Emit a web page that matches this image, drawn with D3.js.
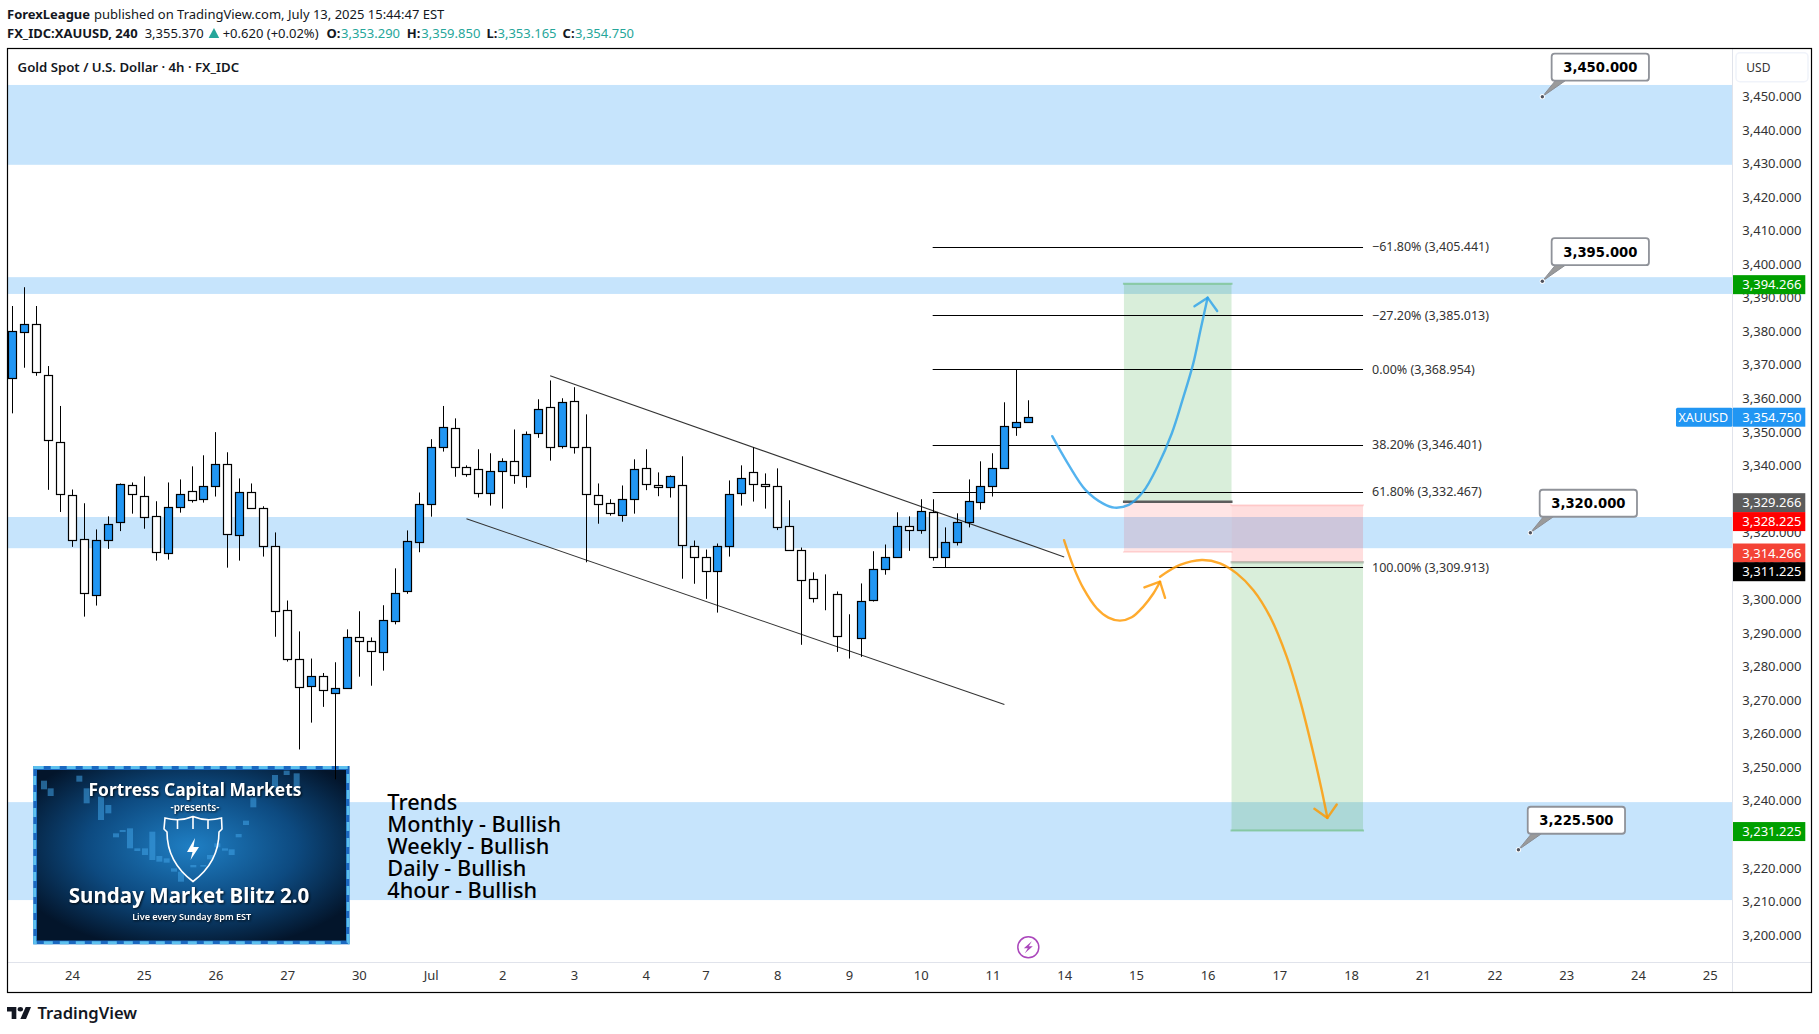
<!DOCTYPE html>
<html>
<head>
<meta charset="utf-8">
<title>XAUUSD 4h</title>
<script src="https://d3js.org/d3.v7.min.js"></script>
<style>
html, body { margin: 0; background: #fff; }
svg { display: block; }
text { font-family: "Noto Sans", sans-serif; }
</style>
</head>
<body>
<svg id="chart" width="1819" height="1034"></svg>
<script>
// candles
var opens = [3366.3,3379.6,3382.1,3366.9,3347.2,3331.4,3318.0,3301.3,3317.7,3323.1,3334.1,3331.1,3324.9,3313.9,3327.9,3332.6,3330.0,3333.8,3340.4,3319.5,3332.3,3327.3,3316.2,3296.9,3282.3,3274.2,3277.2,3272.1,3273.6,3288.8,3287.6,3284.3,3293.6,3302.5,3317.1,3328.5,3345.5,3351.1,3339.5,3338.9,3331.7,3338.3,3341.3,3336.8,3349.6,3357.4,3345.8,3359.2,3345.5,3331.4,3328.8,3325.2,3330.0,3339.2,3334.1,3333.5,3334.1,3316.2,3312.9,3308.8,3316.2,3331.7,3338.0,3334.4,3333.8,3321.9,3315.0,3306.1,3301.6,3301.6,3288.8,3288.8,3299.8,3309.1,3312.7,3321.9,3320.7,3326.1,3312.7,3317.1,3323.1,3329.1,3333.8,3339.2,3351.4,3352.9];
var closes = [3380.2,3382.1,3367.8,3347.6,3331.7,3318.0,3301.9,3317.7,3322.5,3334.4,3331.4,3324.9,3314.2,3327.6,3331.7,3330.0,3333.8,3340.4,3319.5,3332.3,3327.6,3315.9,3296.9,3282.3,3273.9,3277.2,3273.0,3273.6,3288.8,3287.6,3284.6,3293.9,3301.9,3317.4,3328.5,3345.5,3351.4,3339.5,3337.4,3331.7,3338.3,3341.3,3337.1,3349.3,3356.8,3345.5,3358.9,3345.5,3331.4,3328.8,3325.8,3330.0,3338.9,3334.4,3333.5,3336.8,3316.2,3312.9,3308.8,3316.2,3331.7,3336.2,3334.4,3333.8,3321.6,3314.8,3306.1,3300.5,3301.5,3289.1,3288.8,3299.8,3309.1,3312.7,3321.9,3320.7,3326.4,3312.7,3317.1,3323.1,3329.4,3333.8,3339.2,3351.7,3352.9,3354.4];
var highs = [3387.6,3393.2,3387.6,3369.7,3357.8,3332.9,3328.8,3321.0,3324.9,3334.7,3335.0,3336.8,3329.4,3335.0,3335.9,3339.8,3343.1,3350.0,3344.0,3336.2,3334.7,3327.9,3320.1,3299.8,3290.6,3282.5,3278.2,3281.4,3291.2,3296.6,3288.8,3298.4,3309.4,3320.7,3332.0,3347.9,3357.8,3354.1,3340.1,3344.9,3343.7,3342.2,3350.8,3350.2,3359.8,3365.4,3360.1,3363.4,3355.3,3334.7,3330.0,3334.1,3341.9,3344.9,3338.0,3337.1,3342.8,3317.7,3315.0,3316.8,3335.6,3340.1,3345.5,3337.7,3339.2,3329.7,3315.6,3308.2,3307.6,3302.5,3295.7,3304.9,3314.5,3316.5,3326.1,3324.9,3330.0,3330.0,3321.6,3325.8,3335.9,3341.3,3343.7,3358.9,3368.7,3359.5];
var lows = [3355.6,3369.2,3366.8,3332.8,3326.2,3315.8,3295.0,3298.3,3315.2,3320.5,3325.7,3321.2,3311.7,3312.0,3326.0,3329.0,3329.0,3330.8,3309.6,3311.7,3327.2,3312.9,3289.0,3281.6,3255.4,3263.4,3268.1,3246.5,3273.6,3277.1,3274.4,3278.9,3292.7,3301.8,3314.2,3324.8,3344.2,3336.7,3336.7,3330.5,3328.1,3327.2,3334.6,3333.4,3348.3,3341.5,3345.1,3343.6,3311.2,3322.7,3325.1,3323.3,3325.7,3332.7,3330.9,3330.5,3306.3,3304.8,3300.3,3296.2,3312.9,3328.1,3329.3,3327.2,3320.8,3314.8,3286.6,3299.2,3296.9,3284.5,3282.5,3283.0,3299.5,3307.5,3312.7,3314.6,3319.7,3311.7,3309.7,3316.2,3321.6,3326.9,3330.8,3339.2,3348.9,3352.9];

// axis labels
var priceTicks = d3.range(3200, 3451, 10);
var dayBars = [5,11,17,23,29,35,41,47,53,58,64,70,76,82,88,94,100,106,112,118,124,130,136,142];
var dayLabels = ["24","25","26","27","30","Jul","2","3","4","7","8","9","10","11","14","15","16","17","18","21","22","23","24","25"];

// drawing tools
var zoneTops = [3453.5,3396.2,3324.7,3239.7];
var zoneBottoms = [3429.7,3391.2,3315.4,3210.5];
var fibLevels = [3405.441,3385.013,3368.954,3346.401,3332.467,3309.913];
var fibNames = ["−61.80%","−27.20%","0.00%","38.20%","61.80%","100.00%"];
var calloutBars = [128,128,127,126];
var calloutPrices = [3450,3395,3320,3225.5];
var priceTagValues = [3394.266,3354.75,3329.266,3328.225,3314.266,3311.225,3231.225];
var priceTagColors = ["#009f00","#2196f3","#5c5c5c","#ff0000","#f44336","#000","#009f00"];
var priceTagNudge = [1,1,1,16.4,1,9.5,1]; // the axis pushes colliding tags apart
var upperLine = [[45,3366.8],[88,3312.8]];
var lowerLine = [[38,3324.2],[83,3268.8]];
var blueCurve = [[87,3348.8],[88.3,3340.7],[89.8,3332.7],[91.3,3328.6],[92.2,3327.5],[93.4,3328.3],[94.6,3332.2],[95.8,3339.7],[97,3349.6],[97.9,3359.6],[98.8,3370.5],[99.4,3380.4],[100,3390.1]];
var blueHead = [[98.9,3387.5],[100,3390.1],[100.8,3386.1]];
var orangeCurve1 = [[87.99,3317.8],[88.77,3309.9],[89.61,3303.4],[90.72,3297.5],[91.7,3294.7],[92.67,3293.8],[93.65,3294.8],[94.62,3298],[95.46,3301.9],[96.02,3305.4]];
var orangeHead1 = [[94.71,3303.7],[96.02,3305.4],[96.44,3300.6]];
var orangeCurve2 = [[96.02,3306.9],[97.69,3310.4],[99.5,3311.9],[101.04,3310.9],[102.43,3307.9],[103.83,3302.9],[105.22,3295],[106.62,3283],[107.73,3270.1],[108.85,3254.2],[109.54,3243.3],[110.02,3235]];
var orangeHead2 = [[108.93,3237.7],[110.02,3235],[110.8,3239]];
var trendLines = ["Trends","Monthly - Bullish","Weekly - Bullish","Daily - Bullish","4hour - Bullish"];

// faint candles in the banner picture
var bannerBarX = [72,92,178,200,243,265,288,308,330,352,375,397,418,440,462,483,520,550,570,592,615,635,656,678,700,765,800,830];
var bannerBarTop = [62,85,47,85,110,135,220,210,205,265,265,215,288,295,325,335,315,315,285,250,265,268,222,182,112,45,32,40];
var bannerBarBottom = [88,108,65,130,180,160,232,216,265,273,285,300,305,308,335,365,322,320,298,262,272,285,232,195,142,85,45,95];

var svg = d3.select("#chart");
var x = d3.scaleLinear().domain([0, 142]).range([12.2, 1709.7]);
var y = d3.scaleLinear().domain([3200, 3450]).range([935.3, 96.7]);
var plotLeft = 7.5, plotRight = 1732.5, frameRight = 1811.5, frameTop = 48.5, frameBottom = 992.5, axisTop = 962.5;
var lineGen = d3.line().x(d => x(d[0])).y(d => y(d[1]));
var curveGen = d3.line().x(d => x(d[0])).y(d => y(d[1])).curve(d3.curveCatmullRom.alpha(0.5));

// header
var head1 = svg.append("text").attr("x", 7).attr("y", 18.5).attr("font-size", 13).attr("fill", "#131722");
head1.append("tspan").attr("font-weight", 700).text("ForexLeague");
head1.append("tspan").attr("dx", 4).text("published on TradingView.com, July 13, 2025 15:44:47 EST");

function headText(px, str, col, bold) {
  svg.append("text").attr("x", px).attr("y", 37.5).attr("font-size", 13)
    .attr("fill", col).attr("font-weight", bold ? 700 : 400).text(str);
}
headText(7, "FX_IDC:XAUUSD, 240", "#131722", true);
headText(144.7, "3,355.370", "#131722");
svg.append("path").attr("d", "M208.6 38L214 28L219.2 38Z").attr("fill", "#26a69a");
headText(222.7, "+0.620 (+0.02%)", "#131722");
headText(326.4, "O:", "#131722", true);
headText(341, "3,353.290", "#26a69a");
headText(406.8, "H:", "#131722", true);
headText(421.3, "3,359.850", "#26a69a");
headText(486.4, "L:", "#131722", true);
headText(497.5, "3,353.165", "#26a69a");
headText(562.6, "C:", "#131722", true);
headText(575, "3,354.750", "#26a69a");

// zones
svg.append("g").selectAll("rect").data(zoneTops).join("rect")
  .attr("x", plotLeft).attr("width", plotRight - plotLeft)
  .attr("y", d => y(d))
  .attr("height", (d, i) => y(zoneBottoms[i]) - y(d))
  .attr("fill", "#c6e4fc");

// banner
var defs = svg.append("defs");
var glow = defs.append("radialGradient").attr("id", "bannerFill").attr("cx", "50%").attr("cy", "45%").attr("r", "62%");
glow.append("stop").attr("offset", "0%").attr("stop-color", "#1f7fc4");
glow.append("stop").attr("offset", "55%").attr("stop-color", "#0d4a80");
glow.append("stop").attr("offset", "100%").attr("stop-color", "#03152b");
var banner = svg.append("g");
var bx = d3.scaleLinear().domain([0, 1020]).range([20, 360]);
var by = d3.scaleLinear().domain([0, 570]).range([760, 950]);
banner.append("rect").attr("x", 33.2).attr("y", 766).attr("width", 316.4).attr("height", 178.3).attr("fill", "#1a68c0");
banner.append("rect").attr("x", 34.7).attr("y", 767.5).attr("width", 313.4).attr("height", 175.3)
  .attr("fill", "none").attr("stroke", "#5cc0ee").attr("stroke-width", 3).attr("stroke-dasharray", "9 7");
banner.append("rect").attr("x", 37).attr("y", 770).attr("width", 309).attr("height", 170.5).attr("fill", "url(#bannerFill)");
banner.selectAll(".bbar").data(bannerBarX).join("rect").attr("class", "bbar")
  .attr("x", d => bx(d) - 3).attr("width", 6)
  .attr("y", (d, i) => by(bannerBarTop[i]))
  .attr("height", (d, i) => by(bannerBarBottom[i]) - by(bannerBarTop[i]))
  .attr("fill", "#3fa3e6").attr("opacity", 0.55);
var shadow = "drop-shadow(1px 1px 1px rgba(0,0,0,.8))";
function bannerText(px, py, size, str, weight) {
  banner.append("text").attr("x", px).attr("y", py).attr("font-size", size).attr("font-weight", weight)
    .attr("text-anchor", "middle").attr("fill", "#fff").style("filter", shadow).text(str);
}
bannerText(195, 795.5, 17.4, "Fortress Capital Markets", 700);
bannerText(195, 810.5, 10, "-presents-", 600);
bannerText(189, 903, 20.6, "Sunday Market Blitz 2.0", 700);
bannerText(191.7, 919.5, 9.1, "Live every Sunday 8pm EST", 600);
banner.append("path")
  .attr("d", "M165 818Q180 822 193 816.5Q206 822 221.5 818L222 829L219 832Q219 862 193 881.5Q167 862 167 832L164 829ZM177.5 820V829M193 817V829M208 820V829")
  .attr("fill", "none").attr("stroke", "#fff").attr("stroke-width", 1.6);
banner.append("path").attr("d", "M195 838L187 852H192.5L190.5 860L199 847H193.5Z").attr("fill", "#fff");

// position tools
function box(bar0, bar1, p0, p1, col) {
  svg.append("rect").attr("x", x(bar0)).attr("width", x(bar1) - x(bar0))
    .attr("y", y(p0)).attr("height", y(p1) - y(p0)).attr("fill", col);
}
function edge(bar0, bar1, p, col, w) {
  svg.append("line").attr("x1", x(bar0) - 1).attr("x2", x(bar1) + 1).attr("y1", y(p)).attr("y2", y(p))
    .attr("stroke", col).attr("stroke-width", w);
}
box(93, 102, 3394.266, 3329.266, "rgba(76,175,80,.21)");
box(93, 102, 3329.266, 3314.266, "rgba(255,0,0,.1)");
edge(93, 102, 3394.266, "rgba(76,175,80,.45)", 2);
edge(93, 102, 3314.266, "rgba(255,0,0,.1)", 2);
edge(93, 102, 3329.266, "#5c5c5c", 2.5);
box(102, 113, 3328.225, 3311.225, "rgba(255,0,0,.13)");
box(102, 113, 3311.225, 3231.225, "rgba(76,175,80,.21)");
edge(102, 113, 3328.225, "rgba(255,0,0,.12)", 2);
edge(102, 113, 3311.225, "rgba(90,110,90,.35)", 2.5);
edge(102, 113, 3231.225, "rgba(76,175,80,.45)", 2);

// fib levels
var fibs = svg.append("g");
fibs.selectAll("line").data(fibLevels).join("line")
  .attr("x1", x(77)).attr("x2", x(113))
  .attr("y1", d => Math.round(y(d) + 0.6) + 0.5).attr("y2", d => Math.round(y(d) + 0.6) + 0.5)
  .attr("stroke", "#000").attr("stroke-width", 1.1);
fibs.selectAll("text").data(fibLevels).join("text")
  .attr("x", 1372).attr("y", d => y(d) + 5).attr("font-size", 12.5).attr("fill", "#333")
  .text((d, i) => fibNames[i] + " (" + d3.format(",.3f")(d) + ")");

// channel
svg.append("g").selectAll("path").data([upperLine, lowerLine]).join("path")
  .attr("d", lineGen).attr("fill", "none").attr("stroke", "#333").attr("stroke-width", 1.1);

// candles
var candles = svg.append("g");
candles.selectAll("line").data(opens).join("line")
  .attr("x1", (d, i) => Math.round(x(i)) + 0.5).attr("x2", (d, i) => Math.round(x(i)) + 0.5)
  .attr("y1", (d, i) => y(highs[i])).attr("y2", (d, i) => y(lows[i]))
  .attr("stroke", "#000").attr("stroke-width", 1);
candles.selectAll("rect").data(opens).join("rect")
  .attr("x", (d, i) => Math.round(x(i)) - 3.5).attr("width", 8)
  .attr("y", (d, i) => Math.round(y(Math.max(d, closes[i]))) + 0.5)
  .attr("height", (d, i) => Math.round(Math.abs(y(d) - y(closes[i]))))
  .attr("fill", (d, i) => closes[i] > d ? "#2196f3" : "#fff")
  .attr("stroke", "#000").attr("stroke-width", 1.2);

// hand drawn paths
function stroke(points, gen, col) {
  svg.append("path").attr("d", gen(points)).attr("fill", "none").attr("stroke", col)
    .attr("stroke-width", 2.4).attr("stroke-linecap", "round").attr("stroke-linejoin", "round");
}
var blueInk = "rgba(41,160,235,.8)", orangeInk = "rgba(255,152,0,.82)";
stroke(blueCurve, curveGen, blueInk);
stroke(blueHead, lineGen, blueInk);
stroke(orangeCurve1, curveGen, orangeInk);
stroke(orangeHead1, lineGen, orangeInk);
stroke(orangeCurve2, curveGen, orangeInk);
stroke(orangeHead2, lineGen, orangeInk);

// trend text
svg.append("g").selectAll("text").data(trendLines).join("text")
  .attr("x", 387.3).attr("y", (d, i) => 809.5 + i * 22).attr("font-size", 21.7).attr("font-weight", 500).attr("fill", "#000").text(d => d);

// callouts
calloutPrices.forEach(function(p, i) {
  var cx = x(calloutBars[i]), cy = y(p);
  var g = svg.append("g").attr("transform", "translate(" + cx + "," + cy + ")");
  g.append("path").attr("d", "M13 -16L0 0L23 -16")
    .attr("fill", "#9a9a9a").attr("stroke", "#8a8d94").attr("stroke-width", 1);
  g.append("rect").attr("x", 9.3).attr("y", -43).attr("width", 97.3).attr("height", 27).attr("rx", 3)
    .attr("fill", "#fff").attr("stroke", "#8f9299").attr("stroke-width", 1.8);
  g.append("circle").attr("r", 2.6).attr("fill", "#fff");
  g.append("circle").attr("r", 1.7).attr("fill", "#50535e");
  g.append("text").attr("x", 58).attr("y", -24.5).attr("text-anchor", "middle")
    .attr("font-size", 13.2).attr("font-weight", 700).attr("fill", "#000")
    .style("font-family", "'DejaVu Sans'").text(d3.format(",.3f")(p));
});

// frame pieces
svg.append("rect").attr("x", plotRight).attr("y", frameTop).attr("width", frameRight - plotRight)
  .attr("height", frameBottom - frameTop).attr("fill", "#fff");
svg.append("rect").attr("x", plotLeft).attr("y", axisTop).attr("width", frameRight - plotLeft)
  .attr("height", frameBottom - axisTop).attr("fill", "#fff");
svg.append("line").attr("x1", plotLeft).attr("x2", frameRight).attr("y1", axisTop).attr("y2", axisTop).attr("stroke", "#e0e3eb");
svg.append("line").attr("x1", plotRight).attr("x2", plotRight).attr("y1", frameTop).attr("y2", frameBottom).attr("stroke", "#e0e3eb");

// axes
var yAxis = d3.axisRight(y).tickValues(priceTicks).tickFormat(d3.format(",.3f")).tickSize(0).tickPadding(0);
var yG = svg.append("g").attr("transform", "translate(1742.3,-0.3)").call(yAxis);
yG.select(".domain").remove();
yG.selectAll("text").attr("font-size", 13).attr("fill", "#333").style("font-family", "'Noto Sans'");

var xAxis = d3.axisBottom(x).tickValues(dayBars).tickFormat((d, i) => dayLabels[i]).tickSize(0).tickPadding(0);
var xG = svg.append("g").attr("transform", "translate(0,971)").call(xAxis);
xG.select(".domain").remove();
xG.selectAll("text").attr("font-size", 13).attr("fill", "#333").style("font-family", "'Noto Sans'");

svg.append("rect").attr("x", 1736).attr("y", 52.7).attr("width", 72).attr("height", 29).attr("rx", 4)
  .attr("fill", "#fff").attr("stroke", "#f0f3fa").attr("stroke-width", 1.5);
svg.append("text").attr("x", 1746.3).attr("y", 72).attr("font-size", 12).attr("fill", "#333").text("USD");

// price tags
var tags = svg.append("g").selectAll("g").data(priceTagValues).join("g")
  .attr("transform", (d, i) => "translate(1733," + (y(d) + priceTagNudge[i]) + ")");
tags.append("rect").attr("y", -9.5).attr("width", 72.3).attr("height", 19)
  .attr("fill", (d, i) => priceTagColors[i]);
tags.append("text").attr("x", 9.3).attr("y", 4.5).attr("font-size", 13).attr("fill", "#fff")
  .text(d => d3.format(",.3f")(d));

svg.append("rect").attr("x", 1676).attr("y", y(3354.75) - 8.5).attr("width", 56.5).attr("height", 19).attr("rx", 1.5).attr("fill", "#2196f3");
svg.append("text").attr("x", 1678.5).attr("y", y(3354.75) + 5.5).attr("font-size", 12.5).attr("fill", "#fff").text("XAUUSD");

// lightning mark
svg.append("circle").attr("cx", x(85)).attr("cy", 947.3).attr("r", 10.5)
  .attr("fill", "#fff").attr("stroke", "#ab47bc").attr("stroke-width", 1.5);
svg.append("path").attr("transform", "translate(" + x(85) + ",947.3)")
  .attr("d", "M3.5 -6L-4.5 1H-0.5L-3.5 6L4.5 -1H0.5Z").attr("fill", "#ab47bc");

// outer frame
svg.append("rect").attr("x", plotLeft).attr("y", frameTop).attr("width", frameRight - plotLeft)
  .attr("height", frameBottom - frameTop).attr("fill", "none").attr("stroke", "#000").attr("stroke-width", 1.2);

svg.append("text").attr("x", 17.6).attr("y", 72.3).attr("font-size", 13.2).attr("font-weight", 600).attr("fill", "#131722")
  .text("Gold Spot / U.S. Dollar · 4h · FX_IDC");

// logo
var logo = svg.append("g").attr("fill", "#131722").attr("transform", "translate(7,1003.7) scale(.667,.55)");
logo.append("path").attr("d", "M14 6H0v8h7v14h7V6Z");
logo.append("circle").attr("cx", 20).attr("cy", 10).attr("r", 4);
logo.append("path").attr("d", "M28.5 28H20l8-22h8z");
svg.append("text").attr("x", 37.5).attr("y", 1019).attr("font-size", 16.6).attr("font-weight", 600).attr("fill", "#131722").text("TradingView");
</script>
</body>
</html>
